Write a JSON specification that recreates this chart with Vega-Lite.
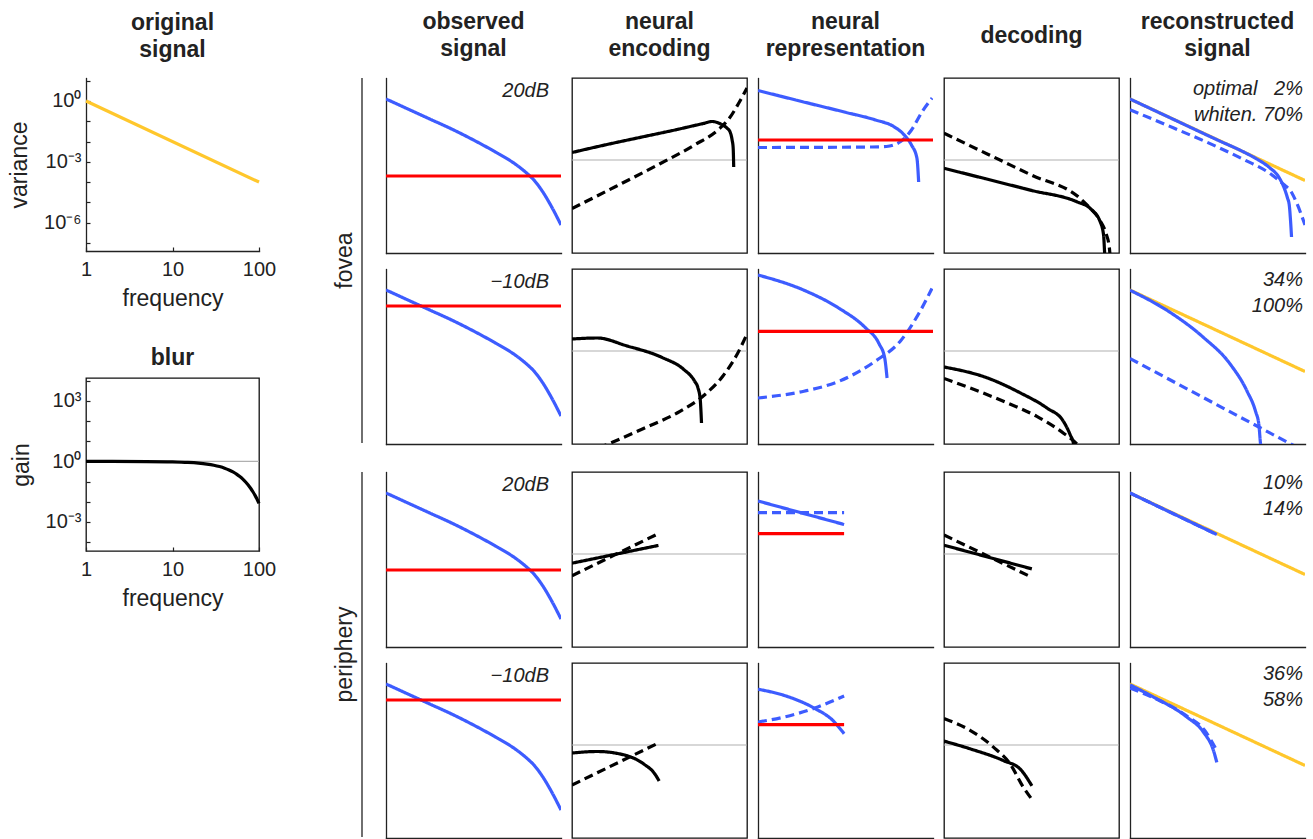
{
"$schema": "https://vega.github.io/schema/vega-lite/v6.json",
"background": "white",
"padding": {"left": 8, "top": 10, "right": 2, "bottom": 1},
"datasets": {
"original": [
{"series": "original", "frequency": 1, "variance": 1},
{"series": "original", "frequency": 100, "variance": 0.0001}
],
"blur": [
{"series": "unity", "frequency": 1, "gain": 1},
{"series": "unity", "frequency": 100, "gain": 1},
{"series": "filter", "frequency": 1, "gain": 0.9995},
{"series": "filter", "frequency": 2, "gain": 0.998},
{"series": "filter", "frequency": 5, "gain": 0.988},
{"series": "filter", "frequency": 10, "gain": 0.953},
{"series": "filter", "frequency": 15, "gain": 0.898},
{"series": "filter", "frequency": 20, "gain": 0.826},
{"series": "filter", "frequency": 25, "gain": 0.741},
{"series": "filter", "frequency": 30, "gain": 0.65},
{"series": "filter", "frequency": 35, "gain": 0.556},
{"series": "filter", "frequency": 40, "gain": 0.465},
{"series": "filter", "frequency": 45, "gain": 0.379},
{"series": "filter", "frequency": 50, "gain": 0.302},
{"series": "filter", "frequency": 55, "gain": 0.235},
{"series": "filter", "frequency": 60, "gain": 0.178},
{"series": "filter", "frequency": 65, "gain": 0.132},
{"series": "filter", "frequency": 70, "gain": 0.0957},
{"series": "filter", "frequency": 75, "gain": 0.0676},
{"series": "filter", "frequency": 80, "gain": 0.0467},
{"series": "filter", "frequency": 85, "gain": 0.0314},
{"series": "filter", "frequency": 90, "gain": 0.0207},
{"series": "filter", "frequency": 95, "gain": 0.0133},
{"series": "filter", "frequency": 100, "gain": 0.0083}
],
"notes": [
{"case": "fovea 20dB", "stage": "observed signal", "text": "20dB"},
{"case": "fovea -10dB", "stage": "observed signal", "text": "−10dB"},
{"case": "periphery 20dB", "stage": "observed signal", "text": "20dB"},
{"case": "periphery -10dB", "stage": "observed signal", "text": "−10dB"},
{"case": "fovea 20dB", "stage": "reconstructed signal", "text": "optimal\u00a0\u00a0\u00a02%\nwhiten. 70%"},
{"case": "fovea -10dB", "stage": "reconstructed signal", "text": "34%\n100%"},
{"case": "periphery 20dB", "stage": "reconstructed signal", "text": "10%\n14%"},
{"case": "periphery -10dB", "stage": "reconstructed signal", "text": "36%\n58%"}
],
"curves": [
{"case": "all", "stage": "observed signal", "series": "signal", "variant": "none", "x": 0, "y": 154},
{"case": "all", "stage": "observed signal", "series": "signal", "variant": "none", "x": 0.25, "y": 144},
{"case": "all", "stage": "observed signal", "series": "signal", "variant": "none", "x": 0.5, "y": 134},
{"case": "all", "stage": "observed signal", "series": "signal", "variant": "none", "x": 0.75, "y": 124},
{"case": "all", "stage": "observed signal", "series": "signal", "variant": "none", "x": 1, "y": 113},
{"case": "all", "stage": "observed signal", "series": "signal", "variant": "none", "x": 1.25, "y": 101},
{"case": "all", "stage": "observed signal", "series": "signal", "variant": "none", "x": 1.5, "y": 87.5},
{"case": "all", "stage": "observed signal", "series": "signal", "variant": "none", "x": 1.6, "y": 80.5},
{"case": "all", "stage": "observed signal", "series": "signal", "variant": "none", "x": 1.7, "y": 72},
{"case": "all", "stage": "observed signal", "series": "signal", "variant": "none", "x": 1.8, "y": 60},
{"case": "all", "stage": "observed signal", "series": "signal", "variant": "none", "x": 1.9, "y": 45},
{"case": "all", "stage": "observed signal", "series": "signal", "variant": "none", "x": 2, "y": 28},
{"case": "fovea 20dB", "stage": "observed signal", "series": "noise", "variant": "none", "x": 0, "y": 77},
{"case": "fovea 20dB", "stage": "observed signal", "series": "noise", "variant": "none", "x": 2, "y": 77},
{"case": "fovea -10dB", "stage": "observed signal", "series": "noise", "variant": "none", "x": 0, "y": 138},
{"case": "fovea -10dB", "stage": "observed signal", "series": "noise", "variant": "none", "x": 2, "y": 138},
{"case": "periphery 20dB", "stage": "observed signal", "series": "noise", "variant": "none", "x": 0, "y": 77},
{"case": "periphery 20dB", "stage": "observed signal", "series": "noise", "variant": "none", "x": 2, "y": 77},
{"case": "periphery -10dB", "stage": "observed signal", "series": "noise", "variant": "none", "x": 0, "y": 138},
{"case": "periphery -10dB", "stage": "observed signal", "series": "noise", "variant": "none", "x": 2, "y": 138},

{"case": "all", "stage": "neural encoding", "series": "unity", "variant": "none", "x": 0, "y": 93},
{"case": "all", "stage": "neural encoding", "series": "unity", "variant": "none", "x": 2, "y": 93},
{"case": "fovea 20dB", "stage": "neural encoding", "series": "filter", "variant": "optimal", "x": 0, "y": 100.5},
{"case": "fovea 20dB", "stage": "neural encoding", "series": "filter", "variant": "optimal", "x": 0.4, "y": 108.5},
{"case": "fovea 20dB", "stage": "neural encoding", "series": "filter", "variant": "optimal", "x": 0.8, "y": 116},
{"case": "fovea 20dB", "stage": "neural encoding", "series": "filter", "variant": "optimal", "x": 1.2, "y": 123.5},
{"case": "fovea 20dB", "stage": "neural encoding", "series": "filter", "variant": "optimal", "x": 1.5, "y": 129.5},
{"case": "fovea 20dB", "stage": "neural encoding", "series": "filter", "variant": "optimal", "x": 1.6, "y": 131.5},
{"case": "fovea 20dB", "stage": "neural encoding", "series": "filter", "variant": "optimal", "x": 1.7, "y": 129},
{"case": "fovea 20dB", "stage": "neural encoding", "series": "filter", "variant": "optimal", "x": 1.77, "y": 125},
{"case": "fovea 20dB", "stage": "neural encoding", "series": "filter", "variant": "optimal", "x": 1.807, "y": 121},
{"case": "fovea 20dB", "stage": "neural encoding", "series": "filter", "variant": "optimal", "x": 1.83, "y": 113},
{"case": "fovea 20dB", "stage": "neural encoding", "series": "filter", "variant": "optimal", "x": 1.842, "y": 105},
{"case": "fovea 20dB", "stage": "neural encoding", "series": "filter", "variant": "optimal", "x": 1.848, "y": 86},
{"case": "fovea 20dB", "stage": "neural encoding", "series": "filter", "variant": "whitening", "x": 0, "y": 44.5},
{"case": "fovea 20dB", "stage": "neural encoding", "series": "filter", "variant": "whitening", "x": 0.5, "y": 66.5},
{"case": "fovea 20dB", "stage": "neural encoding", "series": "filter", "variant": "whitening", "x": 1, "y": 89},
{"case": "fovea 20dB", "stage": "neural encoding", "series": "filter", "variant": "whitening", "x": 1.4, "y": 108},
{"case": "fovea 20dB", "stage": "neural encoding", "series": "filter", "variant": "whitening", "x": 1.68, "y": 124},
{"case": "fovea 20dB", "stage": "neural encoding", "series": "filter", "variant": "whitening", "x": 1.8, "y": 135},
{"case": "fovea 20dB", "stage": "neural encoding", "series": "filter", "variant": "whitening", "x": 1.9, "y": 149},
{"case": "fovea 20dB", "stage": "neural encoding", "series": "filter", "variant": "whitening", "x": 2, "y": 165},
{"case": "fovea -10dB", "stage": "neural encoding", "series": "filter", "variant": "optimal", "x": 0, "y": 105},
{"case": "fovea -10dB", "stage": "neural encoding", "series": "filter", "variant": "optimal", "x": 0.29, "y": 106},
{"case": "fovea -10dB", "stage": "neural encoding", "series": "filter", "variant": "optimal", "x": 0.62, "y": 98.3},
{"case": "fovea -10dB", "stage": "neural encoding", "series": "filter", "variant": "optimal", "x": 1.03, "y": 86.5},
{"case": "fovea -10dB", "stage": "neural encoding", "series": "filter", "variant": "optimal", "x": 1.275, "y": 74.7},
{"case": "fovea -10dB", "stage": "neural encoding", "series": "filter", "variant": "optimal", "x": 1.4, "y": 63},
{"case": "fovea -10dB", "stage": "neural encoding", "series": "filter", "variant": "optimal", "x": 1.44, "y": 56},
{"case": "fovea -10dB", "stage": "neural encoding", "series": "filter", "variant": "optimal", "x": 1.465, "y": 45},
{"case": "fovea -10dB", "stage": "neural encoding", "series": "filter", "variant": "optimal", "x": 1.48, "y": 21},
{"case": "fovea -10dB", "stage": "neural encoding", "series": "filter", "variant": "whitening", "x": 0.3, "y": -4},
{"case": "fovea -10dB", "stage": "neural encoding", "series": "filter", "variant": "whitening", "x": 0.414, "y": 0},
{"case": "fovea -10dB", "stage": "neural encoding", "series": "filter", "variant": "whitening", "x": 0.824, "y": 15.8},
{"case": "fovea -10dB", "stage": "neural encoding", "series": "filter", "variant": "whitening", "x": 1.234, "y": 32.6},
{"case": "fovea -10dB", "stage": "neural encoding", "series": "filter", "variant": "whitening", "x": 1.52, "y": 49.5},
{"case": "fovea -10dB", "stage": "neural encoding", "series": "filter", "variant": "whitening", "x": 1.725, "y": 68},
{"case": "fovea -10dB", "stage": "neural encoding", "series": "filter", "variant": "whitening", "x": 1.889, "y": 90},
{"case": "fovea -10dB", "stage": "neural encoding", "series": "filter", "variant": "whitening", "x": 2, "y": 110},
{"case": "periphery 20dB", "stage": "neural encoding", "series": "filter", "variant": "optimal", "x": 0, "y": 83.8},
{"case": "periphery 20dB", "stage": "neural encoding", "series": "filter", "variant": "optimal", "x": 0.988, "y": 101.6},
{"case": "periphery 20dB", "stage": "neural encoding", "series": "filter", "variant": "whitening", "x": 0, "y": 71.3},
{"case": "periphery 20dB", "stage": "neural encoding", "series": "filter", "variant": "whitening", "x": 0.988, "y": 113.4},
{"case": "periphery -10dB", "stage": "neural encoding", "series": "filter", "variant": "optimal", "x": 0, "y": 85},
{"case": "periphery -10dB", "stage": "neural encoding", "series": "filter", "variant": "optimal", "x": 0.29, "y": 86.5},
{"case": "periphery -10dB", "stage": "neural encoding", "series": "filter", "variant": "optimal", "x": 0.62, "y": 82.5},
{"case": "periphery -10dB", "stage": "neural encoding", "series": "filter", "variant": "optimal", "x": 0.82, "y": 74},
{"case": "periphery -10dB", "stage": "neural encoding", "series": "filter", "variant": "optimal", "x": 0.947, "y": 64},
{"case": "periphery -10dB", "stage": "neural encoding", "series": "filter", "variant": "optimal", "x": 0.996, "y": 57},
{"case": "periphery -10dB", "stage": "neural encoding", "series": "filter", "variant": "whitening", "x": 0, "y": 53},
{"case": "periphery -10dB", "stage": "neural encoding", "series": "filter", "variant": "whitening", "x": 0.988, "y": 95},

{"case": "fovea 20dB", "stage": "neural representation", "series": "signal", "variant": "optimal", "x": 0, "y": 162.5},
{"case": "fovea 20dB", "stage": "neural representation", "series": "signal", "variant": "optimal", "x": 0.5, "y": 151.5},
{"case": "fovea 20dB", "stage": "neural representation", "series": "signal", "variant": "optimal", "x": 1, "y": 140.7},
{"case": "fovea 20dB", "stage": "neural representation", "series": "signal", "variant": "optimal", "x": 1.344, "y": 133},
{"case": "fovea 20dB", "stage": "neural representation", "series": "signal", "variant": "optimal", "x": 1.55, "y": 126.5},
{"case": "fovea 20dB", "stage": "neural representation", "series": "signal", "variant": "optimal", "x": 1.672, "y": 118},
{"case": "fovea 20dB", "stage": "neural representation", "series": "signal", "variant": "optimal", "x": 1.754, "y": 108},
{"case": "fovea 20dB", "stage": "neural representation", "series": "signal", "variant": "optimal", "x": 1.816, "y": 95},
{"case": "fovea 20dB", "stage": "neural representation", "series": "signal", "variant": "optimal", "x": 1.836, "y": 71},
{"case": "fovea 20dB", "stage": "neural representation", "series": "signal", "variant": "whitening", "x": 0, "y": 105.5},
{"case": "fovea 20dB", "stage": "neural representation", "series": "signal", "variant": "whitening", "x": 0.8, "y": 105.7},
{"case": "fovea 20dB", "stage": "neural representation", "series": "signal", "variant": "whitening", "x": 1.3, "y": 106},
{"case": "fovea 20dB", "stage": "neural representation", "series": "signal", "variant": "whitening", "x": 1.467, "y": 106.5},
{"case": "fovea 20dB", "stage": "neural representation", "series": "signal", "variant": "whitening", "x": 1.63, "y": 111.5},
{"case": "fovea 20dB", "stage": "neural representation", "series": "signal", "variant": "whitening", "x": 1.754, "y": 123},
{"case": "fovea 20dB", "stage": "neural representation", "series": "signal", "variant": "whitening", "x": 1.877, "y": 141.5},
{"case": "fovea 20dB", "stage": "neural representation", "series": "signal", "variant": "whitening", "x": 1.99, "y": 155},
{"case": "fovea 20dB", "stage": "neural representation", "series": "noise", "variant": "none", "x": 0, "y": 113},
{"case": "fovea 20dB", "stage": "neural representation", "series": "noise", "variant": "none", "x": 2, "y": 113},
{"case": "fovea -10dB", "stage": "neural representation", "series": "signal", "variant": "optimal", "x": 0, "y": 169},
{"case": "fovea -10dB", "stage": "neural representation", "series": "signal", "variant": "optimal", "x": 0.525, "y": 153.8},
{"case": "fovea -10dB", "stage": "neural representation", "series": "signal", "variant": "optimal", "x": 0.934, "y": 135.3},
{"case": "fovea -10dB", "stage": "neural representation", "series": "signal", "variant": "optimal", "x": 1.221, "y": 116.8},
{"case": "fovea -10dB", "stage": "neural representation", "series": "signal", "variant": "optimal", "x": 1.385, "y": 100},
{"case": "fovea -10dB", "stage": "neural representation", "series": "signal", "variant": "optimal", "x": 1.447, "y": 86.5},
{"case": "fovea -10dB", "stage": "neural representation", "series": "signal", "variant": "optimal", "x": 1.475, "y": 66},
{"case": "fovea -10dB", "stage": "neural representation", "series": "signal", "variant": "whitening", "x": 0, "y": 46},
{"case": "fovea -10dB", "stage": "neural representation", "series": "signal", "variant": "whitening", "x": 0.525, "y": 52.8},
{"case": "fovea -10dB", "stage": "neural representation", "series": "signal", "variant": "whitening", "x": 0.934, "y": 63},
{"case": "fovea -10dB", "stage": "neural representation", "series": "signal", "variant": "whitening", "x": 1.344, "y": 83},
{"case": "fovea -10dB", "stage": "neural representation", "series": "signal", "variant": "whitening", "x": 1.631, "y": 103.3},
{"case": "fovea -10dB", "stage": "neural representation", "series": "signal", "variant": "whitening", "x": 1.836, "y": 130.2},
{"case": "fovea -10dB", "stage": "neural representation", "series": "signal", "variant": "whitening", "x": 1.988, "y": 155.5},
{"case": "fovea -10dB", "stage": "neural representation", "series": "noise", "variant": "none", "x": 0, "y": 112.7},
{"case": "fovea -10dB", "stage": "neural representation", "series": "noise", "variant": "none", "x": 2, "y": 112.7},
{"case": "periphery 20dB", "stage": "neural representation", "series": "signal", "variant": "optimal", "x": 0, "y": 146},
{"case": "periphery 20dB", "stage": "neural representation", "series": "signal", "variant": "optimal", "x": 0.984, "y": 122.5},
{"case": "periphery 20dB", "stage": "neural representation", "series": "signal", "variant": "whitening", "x": 0, "y": 134.3},
{"case": "periphery 20dB", "stage": "neural representation", "series": "signal", "variant": "whitening", "x": 0.984, "y": 134.3},
{"case": "periphery 20dB", "stage": "neural representation", "series": "noise", "variant": "none", "x": 0, "y": 113.4},
{"case": "periphery 20dB", "stage": "neural representation", "series": "noise", "variant": "none", "x": 0.984, "y": 113.4},
{"case": "periphery -10dB", "stage": "neural representation", "series": "signal", "variant": "optimal", "x": 0, "y": 148.8},
{"case": "periphery -10dB", "stage": "neural representation", "series": "signal", "variant": "optimal", "x": 0.32, "y": 142},
{"case": "periphery -10dB", "stage": "neural representation", "series": "signal", "variant": "optimal", "x": 0.648, "y": 129.6},
{"case": "periphery -10dB", "stage": "neural representation", "series": "signal", "variant": "optimal", "x": 0.852, "y": 117.8},
{"case": "periphery -10dB", "stage": "neural representation", "series": "signal", "variant": "optimal", "x": 0.984, "y": 104.3},
{"case": "periphery -10dB", "stage": "neural representation", "series": "signal", "variant": "whitening", "x": 0, "y": 116},
{"case": "periphery -10dB", "stage": "neural representation", "series": "signal", "variant": "whitening", "x": 0.3, "y": 121},
{"case": "periphery -10dB", "stage": "neural representation", "series": "signal", "variant": "whitening", "x": 0.65, "y": 130},
{"case": "periphery -10dB", "stage": "neural representation", "series": "signal", "variant": "whitening", "x": 0.984, "y": 142},
{"case": "periphery -10dB", "stage": "neural representation", "series": "noise", "variant": "none", "x": 0, "y": 113.4},
{"case": "periphery -10dB", "stage": "neural representation", "series": "noise", "variant": "none", "x": 0.984, "y": 113.4},

{"case": "all", "stage": "decoding", "series": "unity", "variant": "none", "x": 0, "y": 93},
{"case": "all", "stage": "decoding", "series": "unity", "variant": "none", "x": 2, "y": 93},
{"case": "fovea 20dB", "stage": "decoding", "series": "filter", "variant": "optimal", "x": 0, "y": 84.7},
{"case": "fovea 20dB", "stage": "decoding", "series": "filter", "variant": "optimal", "x": 0.5, "y": 73.7},
{"case": "fovea 20dB", "stage": "decoding", "series": "filter", "variant": "optimal", "x": 1, "y": 62.6},
{"case": "fovea 20dB", "stage": "decoding", "series": "filter", "variant": "optimal", "x": 1.519, "y": 51.2},
{"case": "fovea 20dB", "stage": "decoding", "series": "filter", "variant": "optimal", "x": 1.672, "y": 44.5},
{"case": "fovea 20dB", "stage": "decoding", "series": "filter", "variant": "optimal", "x": 1.786, "y": 31},
{"case": "fovea 20dB", "stage": "decoding", "series": "filter", "variant": "optimal", "x": 1.824, "y": 17.7},
{"case": "fovea 20dB", "stage": "decoding", "series": "filter", "variant": "optimal", "x": 1.836, "y": 0},
{"case": "fovea 20dB", "stage": "decoding", "series": "filter", "variant": "optimal", "x": 1.84, "y": -5},
{"case": "fovea 20dB", "stage": "decoding", "series": "filter", "variant": "whitening", "x": 0, "y": 119.8},
{"case": "fovea 20dB", "stage": "decoding", "series": "filter", "variant": "whitening", "x": 0.5, "y": 98.8},
{"case": "fovea 20dB", "stage": "decoding", "series": "filter", "variant": "whitening", "x": 1, "y": 77.9},
{"case": "fovea 20dB", "stage": "decoding", "series": "filter", "variant": "whitening", "x": 1.557, "y": 54.5},
{"case": "fovea 20dB", "stage": "decoding", "series": "filter", "variant": "whitening", "x": 1.672, "y": 44.5},
{"case": "fovea 20dB", "stage": "decoding", "series": "filter", "variant": "whitening", "x": 1.78, "y": 33},
{"case": "fovea 20dB", "stage": "decoding", "series": "filter", "variant": "whitening", "x": 1.85, "y": 20},
{"case": "fovea 20dB", "stage": "decoding", "series": "filter", "variant": "whitening", "x": 1.89, "y": 5},
{"case": "fovea 20dB", "stage": "decoding", "series": "filter", "variant": "whitening", "x": 1.9, "y": -5},
{"case": "fovea -10dB", "stage": "decoding", "series": "filter", "variant": "optimal", "x": 0, "y": 77},
{"case": "fovea -10dB", "stage": "decoding", "series": "filter", "variant": "optimal", "x": 0.489, "y": 66.3},
{"case": "fovea -10dB", "stage": "decoding", "series": "filter", "variant": "optimal", "x": 0.87, "y": 51.2},
{"case": "fovea -10dB", "stage": "decoding", "series": "filter", "variant": "optimal", "x": 1.176, "y": 36},
{"case": "fovea -10dB", "stage": "decoding", "series": "filter", "variant": "optimal", "x": 1.366, "y": 22.5},
{"case": "fovea -10dB", "stage": "decoding", "series": "filter", "variant": "optimal", "x": 1.443, "y": 9},
{"case": "fovea -10dB", "stage": "decoding", "series": "filter", "variant": "optimal", "x": 1.481, "y": 0},
{"case": "fovea -10dB", "stage": "decoding", "series": "filter", "variant": "optimal", "x": 1.49, "y": -5},
{"case": "fovea -10dB", "stage": "decoding", "series": "filter", "variant": "whitening", "x": 0, "y": 65.6},
{"case": "fovea -10dB", "stage": "decoding", "series": "filter", "variant": "whitening", "x": 0.679, "y": 42.7},
{"case": "fovea -10dB", "stage": "decoding", "series": "filter", "variant": "whitening", "x": 1.061, "y": 27.6},
{"case": "fovea -10dB", "stage": "decoding", "series": "filter", "variant": "whitening", "x": 1.366, "y": 10.8},
{"case": "fovea -10dB", "stage": "decoding", "series": "filter", "variant": "whitening", "x": 1.519, "y": 0},
{"case": "fovea -10dB", "stage": "decoding", "series": "filter", "variant": "whitening", "x": 1.55, "y": -3},
{"case": "periphery 20dB", "stage": "decoding", "series": "filter", "variant": "optimal", "x": 0, "y": 101.8},
{"case": "periphery 20dB", "stage": "decoding", "series": "filter", "variant": "optimal", "x": 1.004, "y": 78.1},
{"case": "periphery 20dB", "stage": "decoding", "series": "filter", "variant": "whitening", "x": 0, "y": 112},
{"case": "periphery 20dB", "stage": "decoding", "series": "filter", "variant": "whitening", "x": 1.004, "y": 69.7},
{"case": "periphery -10dB", "stage": "decoding", "series": "filter", "variant": "optimal", "x": 0, "y": 96.9},
{"case": "periphery -10dB", "stage": "decoding", "series": "filter", "variant": "optimal", "x": 0.298, "y": 89.2},
{"case": "periphery -10dB", "stage": "decoding", "series": "filter", "variant": "optimal", "x": 0.679, "y": 77.4},
{"case": "periphery -10dB", "stage": "decoding", "series": "filter", "variant": "optimal", "x": 0.87, "y": 69},
{"case": "periphery -10dB", "stage": "decoding", "series": "filter", "variant": "optimal", "x": 1.004, "y": 52.2},
{"case": "periphery -10dB", "stage": "decoding", "series": "filter", "variant": "whitening", "x": 0, "y": 119.5},
{"case": "periphery -10dB", "stage": "decoding", "series": "filter", "variant": "whitening", "x": 0.298, "y": 107.7},
{"case": "periphery -10dB", "stage": "decoding", "series": "filter", "variant": "whitening", "x": 0.565, "y": 90.9},
{"case": "periphery -10dB", "stage": "decoding", "series": "filter", "variant": "whitening", "x": 0.756, "y": 74},
{"case": "periphery -10dB", "stage": "decoding", "series": "filter", "variant": "whitening", "x": 0.908, "y": 50.5},
{"case": "periphery -10dB", "stage": "decoding", "series": "filter", "variant": "whitening", "x": 1.004, "y": 38.7},

{"case": "all", "stage": "reconstructed signal", "series": "original", "variant": "none", "x": 0, "y": 154},
{"case": "all", "stage": "reconstructed signal", "series": "original", "variant": "none", "x": 2, "y": 72.5},
{"case": "fovea 20dB", "stage": "reconstructed signal", "series": "signal", "variant": "whitening", "x": 0, "y": 143.2},
{"case": "fovea 20dB", "stage": "reconstructed signal", "series": "signal", "variant": "whitening", "x": 0.5, "y": 125},
{"case": "fovea 20dB", "stage": "reconstructed signal", "series": "signal", "variant": "whitening", "x": 1, "y": 106},
{"case": "fovea 20dB", "stage": "reconstructed signal", "series": "signal", "variant": "whitening", "x": 1.3, "y": 93.5},
{"case": "fovea 20dB", "stage": "reconstructed signal", "series": "signal", "variant": "whitening", "x": 1.6, "y": 79.5},
{"case": "fovea 20dB", "stage": "reconstructed signal", "series": "signal", "variant": "whitening", "x": 1.75, "y": 69},
{"case": "fovea 20dB", "stage": "reconstructed signal", "series": "signal", "variant": "whitening", "x": 1.85, "y": 60},
{"case": "fovea 20dB", "stage": "reconstructed signal", "series": "signal", "variant": "whitening", "x": 1.9, "y": 51},
{"case": "fovea 20dB", "stage": "reconstructed signal", "series": "signal", "variant": "whitening", "x": 2, "y": 28},
{"case": "fovea 20dB", "stage": "reconstructed signal", "series": "signal", "variant": "optimal", "x": 0, "y": 154},
{"case": "fovea 20dB", "stage": "reconstructed signal", "series": "signal", "variant": "optimal", "x": 0.5, "y": 133.5},
{"case": "fovea 20dB", "stage": "reconstructed signal", "series": "signal", "variant": "optimal", "x": 1, "y": 113},
{"case": "fovea 20dB", "stage": "reconstructed signal", "series": "signal", "variant": "optimal", "x": 1.3, "y": 101},
{"case": "fovea 20dB", "stage": "reconstructed signal", "series": "signal", "variant": "optimal", "x": 1.45, "y": 94},
{"case": "fovea 20dB", "stage": "reconstructed signal", "series": "signal", "variant": "optimal", "x": 1.6, "y": 85},
{"case": "fovea 20dB", "stage": "reconstructed signal", "series": "signal", "variant": "optimal", "x": 1.7, "y": 76},
{"case": "fovea 20dB", "stage": "reconstructed signal", "series": "signal", "variant": "optimal", "x": 1.762, "y": 65},
{"case": "fovea 20dB", "stage": "reconstructed signal", "series": "signal", "variant": "optimal", "x": 1.8, "y": 55},
{"case": "fovea 20dB", "stage": "reconstructed signal", "series": "signal", "variant": "optimal", "x": 1.82, "y": 48},
{"case": "fovea 20dB", "stage": "reconstructed signal", "series": "signal", "variant": "optimal", "x": 1.835, "y": 32},
{"case": "fovea 20dB", "stage": "reconstructed signal", "series": "signal", "variant": "optimal", "x": 1.846, "y": 16},
{"case": "fovea -10dB", "stage": "reconstructed signal", "series": "signal", "variant": "whitening", "x": 0, "y": 85.5},
{"case": "fovea -10dB", "stage": "reconstructed signal", "series": "signal", "variant": "whitening", "x": 1.838, "y": 0},
{"case": "fovea -10dB", "stage": "reconstructed signal", "series": "signal", "variant": "whitening", "x": 2, "y": -7.5},
{"case": "fovea -10dB", "stage": "reconstructed signal", "series": "signal", "variant": "optimal", "x": 0, "y": 153.8},
{"case": "fovea -10dB", "stage": "reconstructed signal", "series": "signal", "variant": "optimal", "x": 0.454, "y": 131.9},
{"case": "fovea -10dB", "stage": "reconstructed signal", "series": "signal", "variant": "optimal", "x": 0.838, "y": 106.7},
{"case": "fovea -10dB", "stage": "reconstructed signal", "series": "signal", "variant": "optimal", "x": 1.146, "y": 79.8},
{"case": "fovea -10dB", "stage": "reconstructed signal", "series": "signal", "variant": "optimal", "x": 1.338, "y": 52.8},
{"case": "fovea -10dB", "stage": "reconstructed signal", "series": "signal", "variant": "optimal", "x": 1.435, "y": 32.6},
{"case": "fovea -10dB", "stage": "reconstructed signal", "series": "signal", "variant": "optimal", "x": 1.473, "y": 19.2},
{"case": "fovea -10dB", "stage": "reconstructed signal", "series": "signal", "variant": "optimal", "x": 1.492, "y": 0},
{"case": "fovea -10dB", "stage": "reconstructed signal", "series": "signal", "variant": "optimal", "x": 1.5, "y": -5},
{"case": "periphery 20dB", "stage": "reconstructed signal", "series": "signal", "variant": "whitening", "x": 0, "y": 154},
{"case": "periphery 20dB", "stage": "reconstructed signal", "series": "signal", "variant": "whitening", "x": 0.992, "y": 112.5},
{"case": "periphery 20dB", "stage": "reconstructed signal", "series": "signal", "variant": "optimal", "x": 0, "y": 154},
{"case": "periphery 20dB", "stage": "reconstructed signal", "series": "signal", "variant": "optimal", "x": 0.992, "y": 112.5},
{"case": "periphery -10dB", "stage": "reconstructed signal", "series": "signal", "variant": "whitening", "x": 0, "y": 150},
{"case": "periphery -10dB", "stage": "reconstructed signal", "series": "signal", "variant": "whitening", "x": 0.3, "y": 139},
{"case": "periphery -10dB", "stage": "reconstructed signal", "series": "signal", "variant": "whitening", "x": 0.65, "y": 122},
{"case": "periphery -10dB", "stage": "reconstructed signal", "series": "signal", "variant": "whitening", "x": 0.85, "y": 108},
{"case": "periphery -10dB", "stage": "reconstructed signal", "series": "signal", "variant": "whitening", "x": 0.992, "y": 87.5},
{"case": "periphery -10dB", "stage": "reconstructed signal", "series": "signal", "variant": "optimal", "x": 0, "y": 153.1},
{"case": "periphery -10dB", "stage": "reconstructed signal", "series": "signal", "variant": "optimal", "x": 0.262, "y": 141.3},
{"case": "periphery -10dB", "stage": "reconstructed signal", "series": "signal", "variant": "optimal", "x": 0.646, "y": 121.2},
{"case": "periphery -10dB", "stage": "reconstructed signal", "series": "signal", "variant": "optimal", "x": 0.838, "y": 106},
{"case": "periphery -10dB", "stage": "reconstructed signal", "series": "signal", "variant": "optimal", "x": 0.954, "y": 87.5},
{"case": "periphery -10dB", "stage": "reconstructed signal", "series": "signal", "variant": "optimal", "x": 0.992, "y": 75.7}
]
},
"spacing": 56,
"hconcat": [
{"vconcat": [
 {"width": 173, "height": 173,
  "title": {"text": ["original", "signal"], "offset": 9},
  "data": {"name": "original"},
  "mark": {"type": "line", "color": "#ffc72c", "strokeWidth": 3.2},
  "encoding": {
   "x": {"field": "frequency", "type": "quantitative", "scale": {"type": "log", "domain": [1, 100], "nice": false},
         "axis": {"title": "frequency", "values": [1, 10, 100], "format": "~g", "labels": true, "ticks": true, "tickSize": -4, "labelPadding": 12, "titlePadding": 8, "labelFlush": false, "labelOverlap": false}},
   "y": {"field": "variance", "type": "quantitative", "scale": {"type": "log", "domain": [4e-8, 13.5], "nice": false},
         "axis": {"title": "variance", "values": [1e-7, 1e-6, 1e-5, 1e-4, 1e-3, 1e-2, 1e-1, 1, 10], "labelExpr": "abs(log(datum.value)/LN10) < 0.01 ? '10⁰' : abs(log(datum.value)/LN10 + 3) < 0.01 ? '10⁻³' : abs(log(datum.value)/LN10 + 6) < 0.01 ? '10⁻⁶' : ''", "labels": true, "ticks": true, "tickSize": -4, "labelPadding": 9, "titlePadding": 12, "labelOverlap": false, "labelFlush": false}}
  }},
 {"width": 173, "height": 173,
  "title": {"text": "blur", "offset": 1},
  "view": {"stroke": "#111", "strokeWidth": 1.3},
  "data": {"name": "blur"},
  "encoding": {
   "x": {"field": "frequency", "type": "quantitative", "scale": {"type": "log", "domain": [1, 100], "nice": false},
         "axis": {"title": "frequency", "domain": false, "values": [1, 10, 100], "format": "~g", "labels": true, "ticks": true, "tickSize": -4, "labelPadding": 12, "titlePadding": 8, "labelFlush": false, "labelOverlap": false}},
   "y": {"field": "gain", "type": "quantitative", "scale": {"type": "log", "domain": [3.6e-5, 13800], "nice": false},
         "axis": {"title": "gain", "domain": false, "values": [1e-4, 1e-3, 1e-2, 1e-1, 1, 10, 100, 1000, 10000], "labelExpr": "abs(log(datum.value)/LN10 - 3) < 0.01 ? '10³' : abs(log(datum.value)/LN10) < 0.01 ? '10⁰' : abs(log(datum.value)/LN10 + 3) < 0.01 ? '10⁻³' : ''", "labels": true, "ticks": true, "tickSize": -4, "labelPadding": 9, "titlePadding": 12, "labelOverlap": false, "labelFlush": false}}
  },
  "layer": [
   {"transform": [{"filter": "datum.series == 'unity'"}], "mark": {"type": "line", "color": "#b0b0b0", "strokeWidth": 1.2}},
   {"transform": [{"filter": "datum.series == 'filter'"}], "mark": {"type": "line", "color": "#000000", "strokeWidth": 3.2, "interpolate": "monotone"}}
  ]}
], "spacing": 36},
{"vconcat": [
 {"hconcat": [
  {"width": 28, "height": 365,
   "title": {"text": [" ", " "]},
   "data": {"values": [{"region": "fovea"}]},
   "layer": [
    {"mark": {"type": "rule", "color": "#222", "strokeWidth": 1.3}, "encoding": {"x": {"datum": 1, "type": "quantitative", "scale": {"domain": [0, 1], "nice": false, "zero": false}, "axis": null}}},
    {"mark": {"type": "text", "angle": 270, "fontSize": 23, "color": "#222", "align": "center", "baseline": "middle"}, "encoding": {"x": {"datum": 0.39, "type": "quantitative", "axis": null}, "y": {"datum": 0.5, "type": "quantitative", "scale": {"domain": [0, 1], "nice": false, "zero": false}, "axis": null}, "text": {"field": "region"}}}
   ]},
  {"vconcat": [
   {"hconcat": [
    {"width": 175, "height": 175, "title": {"text": ["observed", "signal"]},
     "layer": [
      {"data": {"name": "curves"}, "transform": [{"filter": "datum.stage == 'observed signal' && (datum.case == 'fovea 20dB' || datum.case == 'all')"}],
       "mark": {"type": "line", "interpolate": "monotone", "clip": true, "strokeWidth": 3.2},
       "encoding": {"x": {"field": "x", "type": "quantitative", "title": null, "scale": {"domain": [0, 2], "nice": false, "zero": false}}, "y": {"field": "y", "type": "quantitative", "title": null, "scale": {"domain": [0, 175], "nice": false, "zero": false}}, "color": {"field": "series", "type": "nominal", "scale": {"domain": ["original", "signal", "noise", "filter"], "range": ["#ffc72c", "#3d5cff", "#ff0000", "#000000"]}, "legend": null}, "strokeDash": {"field": "variant", "type": "nominal", "scale": {"domain": ["none", "optimal", "whitening"], "range": [[1, 0], [1, 0], [9, 5]]}, "legend": null}}},
      {"data": {"name": "notes"}, "transform": [{"filter": "datum.stage == 'observed signal' && datum.case == 'fovea 20dB'"}],
       "mark": {"type": "text", "align": "right", "baseline": "top", "dx": -12, "dy": 3, "fontSize": 20, "fontStyle": "italic", "color": "#222", "lineBreak": "\n", "lineHeight": 25.5},
       "encoding": {"x": {"datum": 2}, "y": {"datum": 175}, "text": {"field": "text"}}}
     ]},
    {"width": 175, "height": 175, "title": {"text": ["neural", "encoding"]},
     "view": {"stroke": "#111", "strokeWidth": 1.3},
     "data": {"name": "curves"}, "transform": [{"filter": "datum.stage == 'neural encoding' && (datum.case == 'fovea 20dB' || datum.case == 'all')"}],
     "encoding": {"x": {"field": "x", "type": "quantitative", "axis": null, "scale": {"domain": [0, 2], "nice": false, "zero": false}}, "y": {"field": "y", "type": "quantitative", "axis": null, "scale": {"domain": [0, 175], "nice": false, "zero": false}}},
     "layer": [
      {"transform": [{"filter": "datum.series == 'unity'"}], "mark": {"type": "line", "color": "#b0b0b0", "strokeWidth": 1.2}},
      {"transform": [{"filter": "datum.series != 'unity'"}], "mark": {"type": "line", "interpolate": "monotone", "clip": true, "strokeWidth": 3.2},
       "encoding": {"color": {"field": "series", "type": "nominal", "scale": {"domain": ["original", "signal", "noise", "filter"], "range": ["#ffc72c", "#3d5cff", "#ff0000", "#000000"]}, "legend": null}, "strokeDash": {"field": "variant", "type": "nominal", "scale": {"domain": ["none", "optimal", "whitening"], "range": [[1, 0], [1, 0], [9, 5]]}, "legend": null}}}
     ]},
    {"width": 175, "height": 175, "title": {"text": ["neural", "representation"]},
     "data": {"name": "curves"}, "transform": [{"filter": "datum.stage == 'neural representation' && datum.case == 'fovea 20dB'"}],
     "mark": {"type": "line", "interpolate": "monotone", "clip": true, "strokeWidth": 3.2},
     "encoding": {"x": {"field": "x", "type": "quantitative", "title": null, "scale": {"domain": [0, 2], "nice": false, "zero": false}}, "y": {"field": "y", "type": "quantitative", "title": null, "scale": {"domain": [0, 175], "nice": false, "zero": false}}, "color": {"field": "series", "type": "nominal", "scale": {"domain": ["original", "signal", "noise", "filter"], "range": ["#ffc72c", "#3d5cff", "#ff0000", "#000000"]}, "legend": null}, "strokeDash": {"field": "variant", "type": "nominal", "scale": {"domain": ["none", "optimal", "whitening"], "range": [[1, 0], [1, 0], [9, 5]]}, "legend": null}}},
    {"width": 175, "height": 175, "title": {"text": ["decoding"], "dy": -13},
     "view": {"stroke": "#111", "strokeWidth": 1.3},
     "data": {"name": "curves"}, "transform": [{"filter": "datum.stage == 'decoding' && (datum.case == 'fovea 20dB' || datum.case == 'all')"}],
     "encoding": {"x": {"field": "x", "type": "quantitative", "axis": null, "scale": {"domain": [0, 2], "nice": false, "zero": false}}, "y": {"field": "y", "type": "quantitative", "axis": null, "scale": {"domain": [0, 175], "nice": false, "zero": false}}},
     "layer": [
      {"transform": [{"filter": "datum.series == 'unity'"}], "mark": {"type": "line", "color": "#b0b0b0", "strokeWidth": 1.2}},
      {"transform": [{"filter": "datum.series != 'unity'"}], "mark": {"type": "line", "interpolate": "monotone", "clip": true, "strokeWidth": 3.2},
       "encoding": {"color": {"field": "series", "type": "nominal", "scale": {"domain": ["original", "signal", "noise", "filter"], "range": ["#ffc72c", "#3d5cff", "#ff0000", "#000000"]}, "legend": null}, "strokeDash": {"field": "variant", "type": "nominal", "scale": {"domain": ["none", "optimal", "whitening"], "range": [[1, 0], [1, 0], [9, 5]]}, "legend": null}}}
     ]},
    {"width": 175, "height": 175, "title": {"text": ["reconstructed", "signal"]},
     "layer": [
      {"data": {"name": "curves"}, "transform": [{"filter": "datum.stage == 'reconstructed signal' && (datum.case == 'fovea 20dB' || datum.case == 'all')"}],
       "mark": {"type": "line", "interpolate": "monotone", "clip": true, "strokeWidth": 3.2},
       "encoding": {"x": {"field": "x", "type": "quantitative", "title": null, "scale": {"domain": [0, 2], "nice": false, "zero": false}}, "y": {"field": "y", "type": "quantitative", "title": null, "scale": {"domain": [0, 175], "nice": false, "zero": false}}, "color": {"field": "series", "type": "nominal", "scale": {"domain": ["original", "signal", "noise", "filter"], "range": ["#ffc72c", "#3d5cff", "#ff0000", "#000000"]}, "legend": null}, "strokeDash": {"field": "variant", "type": "nominal", "scale": {"domain": ["none", "optimal", "whitening"], "range": [[1, 0], [1, 0], [9, 5]]}, "legend": null}}},
      {"data": {"name": "notes"}, "transform": [{"filter": "datum.stage == 'reconstructed signal' && datum.case == 'fovea 20dB'"}],
       "mark": {"type": "text", "align": "right", "baseline": "top", "dx": -2, "dy": 1, "fontSize": 20, "fontStyle": "italic", "color": "#222", "lineBreak": "\n", "lineHeight": 25.5},
       "encoding": {"x": {"datum": 2}, "y": {"datum": 175}, "text": {"field": "text"}}}
     ]}
   ], "spacing": 7},
   {"hconcat": [
    {"width": 175, "height": 175,
     "layer": [
      {"data": {"name": "curves"}, "transform": [{"filter": "datum.stage == 'observed signal' && (datum.case == 'fovea -10dB' || datum.case == 'all')"}],
       "mark": {"type": "line", "interpolate": "monotone", "clip": true, "strokeWidth": 3.2},
       "encoding": {"x": {"field": "x", "type": "quantitative", "title": null, "scale": {"domain": [0, 2], "nice": false, "zero": false}}, "y": {"field": "y", "type": "quantitative", "title": null, "scale": {"domain": [0, 175], "nice": false, "zero": false}}, "color": {"field": "series", "type": "nominal", "scale": {"domain": ["original", "signal", "noise", "filter"], "range": ["#ffc72c", "#3d5cff", "#ff0000", "#000000"]}, "legend": null}, "strokeDash": {"field": "variant", "type": "nominal", "scale": {"domain": ["none", "optimal", "whitening"], "range": [[1, 0], [1, 0], [9, 5]]}, "legend": null}}},
      {"data": {"name": "notes"}, "transform": [{"filter": "datum.stage == 'observed signal' && datum.case == 'fovea -10dB'"}],
       "mark": {"type": "text", "align": "right", "baseline": "top", "dx": -12, "dy": 3, "fontSize": 20, "fontStyle": "italic", "color": "#222", "lineBreak": "\n", "lineHeight": 25.5},
       "encoding": {"x": {"datum": 2}, "y": {"datum": 175}, "text": {"field": "text"}}}
     ]},
    {"width": 175, "height": 175,
     "view": {"stroke": "#111", "strokeWidth": 1.3},
     "data": {"name": "curves"}, "transform": [{"filter": "datum.stage == 'neural encoding' && (datum.case == 'fovea -10dB' || datum.case == 'all')"}],
     "encoding": {"x": {"field": "x", "type": "quantitative", "axis": null, "scale": {"domain": [0, 2], "nice": false, "zero": false}}, "y": {"field": "y", "type": "quantitative", "axis": null, "scale": {"domain": [0, 175], "nice": false, "zero": false}}},
     "layer": [
      {"transform": [{"filter": "datum.series == 'unity'"}], "mark": {"type": "line", "color": "#b0b0b0", "strokeWidth": 1.2}},
      {"transform": [{"filter": "datum.series != 'unity'"}], "mark": {"type": "line", "interpolate": "monotone", "clip": true, "strokeWidth": 3.2},
       "encoding": {"color": {"field": "series", "type": "nominal", "scale": {"domain": ["original", "signal", "noise", "filter"], "range": ["#ffc72c", "#3d5cff", "#ff0000", "#000000"]}, "legend": null}, "strokeDash": {"field": "variant", "type": "nominal", "scale": {"domain": ["none", "optimal", "whitening"], "range": [[1, 0], [1, 0], [9, 5]]}, "legend": null}}}
     ]},
    {"width": 175, "height": 175,
     "data": {"name": "curves"}, "transform": [{"filter": "datum.stage == 'neural representation' && datum.case == 'fovea -10dB'"}],
     "mark": {"type": "line", "interpolate": "monotone", "clip": true, "strokeWidth": 3.2},
     "encoding": {"x": {"field": "x", "type": "quantitative", "title": null, "scale": {"domain": [0, 2], "nice": false, "zero": false}}, "y": {"field": "y", "type": "quantitative", "title": null, "scale": {"domain": [0, 175], "nice": false, "zero": false}}, "color": {"field": "series", "type": "nominal", "scale": {"domain": ["original", "signal", "noise", "filter"], "range": ["#ffc72c", "#3d5cff", "#ff0000", "#000000"]}, "legend": null}, "strokeDash": {"field": "variant", "type": "nominal", "scale": {"domain": ["none", "optimal", "whitening"], "range": [[1, 0], [1, 0], [9, 5]]}, "legend": null}}},
    {"width": 175, "height": 175,
     "view": {"stroke": "#111", "strokeWidth": 1.3},
     "data": {"name": "curves"}, "transform": [{"filter": "datum.stage == 'decoding' && (datum.case == 'fovea -10dB' || datum.case == 'all')"}],
     "encoding": {"x": {"field": "x", "type": "quantitative", "axis": null, "scale": {"domain": [0, 2], "nice": false, "zero": false}}, "y": {"field": "y", "type": "quantitative", "axis": null, "scale": {"domain": [0, 175], "nice": false, "zero": false}}},
     "layer": [
      {"transform": [{"filter": "datum.series == 'unity'"}], "mark": {"type": "line", "color": "#b0b0b0", "strokeWidth": 1.2}},
      {"transform": [{"filter": "datum.series != 'unity'"}], "mark": {"type": "line", "interpolate": "monotone", "clip": true, "strokeWidth": 3.2},
       "encoding": {"color": {"field": "series", "type": "nominal", "scale": {"domain": ["original", "signal", "noise", "filter"], "range": ["#ffc72c", "#3d5cff", "#ff0000", "#000000"]}, "legend": null}, "strokeDash": {"field": "variant", "type": "nominal", "scale": {"domain": ["none", "optimal", "whitening"], "range": [[1, 0], [1, 0], [9, 5]]}, "legend": null}}}
     ]},
    {"width": 175, "height": 175,
     "layer": [
      {"data": {"name": "curves"}, "transform": [{"filter": "datum.stage == 'reconstructed signal' && (datum.case == 'fovea -10dB' || datum.case == 'all')"}],
       "mark": {"type": "line", "interpolate": "monotone", "clip": true, "strokeWidth": 3.2},
       "encoding": {"x": {"field": "x", "type": "quantitative", "title": null, "scale": {"domain": [0, 2], "nice": false, "zero": false}}, "y": {"field": "y", "type": "quantitative", "title": null, "scale": {"domain": [0, 175], "nice": false, "zero": false}}, "color": {"field": "series", "type": "nominal", "scale": {"domain": ["original", "signal", "noise", "filter"], "range": ["#ffc72c", "#3d5cff", "#ff0000", "#000000"]}, "legend": null}, "strokeDash": {"field": "variant", "type": "nominal", "scale": {"domain": ["none", "optimal", "whitening"], "range": [[1, 0], [1, 0], [9, 5]]}, "legend": null}}},
      {"data": {"name": "notes"}, "transform": [{"filter": "datum.stage == 'reconstructed signal' && datum.case == 'fovea -10dB'"}],
       "mark": {"type": "text", "align": "right", "baseline": "top", "dx": -2, "dy": 1, "fontSize": 20, "fontStyle": "italic", "color": "#222", "lineBreak": "\n", "lineHeight": 25.5},
       "encoding": {"x": {"datum": 2}, "y": {"datum": 175}, "text": {"field": "text"}}}
     ]}
   ], "spacing": 7}
  ], "spacing": 14}
 ], "spacing": 23},
 {"hconcat": [
  {"width": 28, "height": 365,
   "data": {"values": [{"region": "periphery"}]},
   "layer": [
    {"mark": {"type": "rule", "color": "#222", "strokeWidth": 1.3}, "encoding": {"x": {"datum": 1, "type": "quantitative", "scale": {"domain": [0, 1], "nice": false, "zero": false}, "axis": null}}},
    {"mark": {"type": "text", "angle": 270, "fontSize": 23, "color": "#222", "align": "center", "baseline": "middle"}, "encoding": {"x": {"datum": 0.39, "type": "quantitative", "axis": null}, "y": {"datum": 0.5, "type": "quantitative", "scale": {"domain": [0, 1], "nice": false, "zero": false}, "axis": null}, "text": {"field": "region"}}}
   ]},
  {"vconcat": [
   {"hconcat": [
    {"width": 175, "height": 175,
     "layer": [
      {"data": {"name": "curves"}, "transform": [{"filter": "datum.stage == 'observed signal' && (datum.case == 'periphery 20dB' || datum.case == 'all')"}],
       "mark": {"type": "line", "interpolate": "monotone", "clip": true, "strokeWidth": 3.2},
       "encoding": {"x": {"field": "x", "type": "quantitative", "title": null, "scale": {"domain": [0, 2], "nice": false, "zero": false}}, "y": {"field": "y", "type": "quantitative", "title": null, "scale": {"domain": [0, 175], "nice": false, "zero": false}}, "color": {"field": "series", "type": "nominal", "scale": {"domain": ["original", "signal", "noise", "filter"], "range": ["#ffc72c", "#3d5cff", "#ff0000", "#000000"]}, "legend": null}, "strokeDash": {"field": "variant", "type": "nominal", "scale": {"domain": ["none", "optimal", "whitening"], "range": [[1, 0], [1, 0], [9, 5]]}, "legend": null}}},
      {"data": {"name": "notes"}, "transform": [{"filter": "datum.stage == 'observed signal' && datum.case == 'periphery 20dB'"}],
       "mark": {"type": "text", "align": "right", "baseline": "top", "dx": -12, "dy": 3, "fontSize": 20, "fontStyle": "italic", "color": "#222", "lineBreak": "\n", "lineHeight": 25.5},
       "encoding": {"x": {"datum": 2}, "y": {"datum": 175}, "text": {"field": "text"}}}
     ]},
    {"width": 175, "height": 175,
     "view": {"stroke": "#111", "strokeWidth": 1.3},
     "data": {"name": "curves"}, "transform": [{"filter": "datum.stage == 'neural encoding' && (datum.case == 'periphery 20dB' || datum.case == 'all')"}],
     "encoding": {"x": {"field": "x", "type": "quantitative", "axis": null, "scale": {"domain": [0, 2], "nice": false, "zero": false}}, "y": {"field": "y", "type": "quantitative", "axis": null, "scale": {"domain": [0, 175], "nice": false, "zero": false}}},
     "layer": [
      {"transform": [{"filter": "datum.series == 'unity'"}], "mark": {"type": "line", "color": "#b0b0b0", "strokeWidth": 1.2}},
      {"transform": [{"filter": "datum.series != 'unity'"}], "mark": {"type": "line", "interpolate": "monotone", "clip": true, "strokeWidth": 3.2},
       "encoding": {"color": {"field": "series", "type": "nominal", "scale": {"domain": ["original", "signal", "noise", "filter"], "range": ["#ffc72c", "#3d5cff", "#ff0000", "#000000"]}, "legend": null}, "strokeDash": {"field": "variant", "type": "nominal", "scale": {"domain": ["none", "optimal", "whitening"], "range": [[1, 0], [1, 0], [9, 5]]}, "legend": null}}}
     ]},
    {"width": 175, "height": 175,
     "data": {"name": "curves"}, "transform": [{"filter": "datum.stage == 'neural representation' && datum.case == 'periphery 20dB'"}],
     "mark": {"type": "line", "interpolate": "monotone", "clip": true, "strokeWidth": 3.2},
     "encoding": {"x": {"field": "x", "type": "quantitative", "title": null, "scale": {"domain": [0, 2], "nice": false, "zero": false}}, "y": {"field": "y", "type": "quantitative", "title": null, "scale": {"domain": [0, 175], "nice": false, "zero": false}}, "color": {"field": "series", "type": "nominal", "scale": {"domain": ["original", "signal", "noise", "filter"], "range": ["#ffc72c", "#3d5cff", "#ff0000", "#000000"]}, "legend": null}, "strokeDash": {"field": "variant", "type": "nominal", "scale": {"domain": ["none", "optimal", "whitening"], "range": [[1, 0], [1, 0], [9, 5]]}, "legend": null}}},
    {"width": 175, "height": 175,
     "view": {"stroke": "#111", "strokeWidth": 1.3},
     "data": {"name": "curves"}, "transform": [{"filter": "datum.stage == 'decoding' && (datum.case == 'periphery 20dB' || datum.case == 'all')"}],
     "encoding": {"x": {"field": "x", "type": "quantitative", "axis": null, "scale": {"domain": [0, 2], "nice": false, "zero": false}}, "y": {"field": "y", "type": "quantitative", "axis": null, "scale": {"domain": [0, 175], "nice": false, "zero": false}}},
     "layer": [
      {"transform": [{"filter": "datum.series == 'unity'"}], "mark": {"type": "line", "color": "#b0b0b0", "strokeWidth": 1.2}},
      {"transform": [{"filter": "datum.series != 'unity'"}], "mark": {"type": "line", "interpolate": "monotone", "clip": true, "strokeWidth": 3.2},
       "encoding": {"color": {"field": "series", "type": "nominal", "scale": {"domain": ["original", "signal", "noise", "filter"], "range": ["#ffc72c", "#3d5cff", "#ff0000", "#000000"]}, "legend": null}, "strokeDash": {"field": "variant", "type": "nominal", "scale": {"domain": ["none", "optimal", "whitening"], "range": [[1, 0], [1, 0], [9, 5]]}, "legend": null}}}
     ]},
    {"width": 175, "height": 175,
     "layer": [
      {"data": {"name": "curves"}, "transform": [{"filter": "datum.stage == 'reconstructed signal' && (datum.case == 'periphery 20dB' || datum.case == 'all')"}],
       "mark": {"type": "line", "interpolate": "monotone", "clip": true, "strokeWidth": 3.2},
       "encoding": {"x": {"field": "x", "type": "quantitative", "title": null, "scale": {"domain": [0, 2], "nice": false, "zero": false}}, "y": {"field": "y", "type": "quantitative", "title": null, "scale": {"domain": [0, 175], "nice": false, "zero": false}}, "color": {"field": "series", "type": "nominal", "scale": {"domain": ["original", "signal", "noise", "filter"], "range": ["#ffc72c", "#3d5cff", "#ff0000", "#000000"]}, "legend": null}, "strokeDash": {"field": "variant", "type": "nominal", "scale": {"domain": ["none", "optimal", "whitening"], "range": [[1, 0], [1, 0], [9, 5]]}, "legend": null}}},
      {"data": {"name": "notes"}, "transform": [{"filter": "datum.stage == 'reconstructed signal' && datum.case == 'periphery 20dB'"}],
       "mark": {"type": "text", "align": "right", "baseline": "top", "dx": -2, "dy": 1, "fontSize": 20, "fontStyle": "italic", "color": "#222", "lineBreak": "\n", "lineHeight": 25.5},
       "encoding": {"x": {"datum": 2}, "y": {"datum": 175}, "text": {"field": "text"}}}
     ]}
   ], "spacing": 7},
   {"hconcat": [
    {"width": 175, "height": 175,
     "layer": [
      {"data": {"name": "curves"}, "transform": [{"filter": "datum.stage == 'observed signal' && (datum.case == 'periphery -10dB' || datum.case == 'all')"}],
       "mark": {"type": "line", "interpolate": "monotone", "clip": true, "strokeWidth": 3.2},
       "encoding": {"x": {"field": "x", "type": "quantitative", "title": null, "scale": {"domain": [0, 2], "nice": false, "zero": false}}, "y": {"field": "y", "type": "quantitative", "title": null, "scale": {"domain": [0, 175], "nice": false, "zero": false}}, "color": {"field": "series", "type": "nominal", "scale": {"domain": ["original", "signal", "noise", "filter"], "range": ["#ffc72c", "#3d5cff", "#ff0000", "#000000"]}, "legend": null}, "strokeDash": {"field": "variant", "type": "nominal", "scale": {"domain": ["none", "optimal", "whitening"], "range": [[1, 0], [1, 0], [9, 5]]}, "legend": null}}},
      {"data": {"name": "notes"}, "transform": [{"filter": "datum.stage == 'observed signal' && datum.case == 'periphery -10dB'"}],
       "mark": {"type": "text", "align": "right", "baseline": "top", "dx": -12, "dy": 3, "fontSize": 20, "fontStyle": "italic", "color": "#222", "lineBreak": "\n", "lineHeight": 25.5},
       "encoding": {"x": {"datum": 2}, "y": {"datum": 175}, "text": {"field": "text"}}}
     ]},
    {"width": 175, "height": 175,
     "view": {"stroke": "#111", "strokeWidth": 1.3},
     "data": {"name": "curves"}, "transform": [{"filter": "datum.stage == 'neural encoding' && (datum.case == 'periphery -10dB' || datum.case == 'all')"}],
     "encoding": {"x": {"field": "x", "type": "quantitative", "axis": null, "scale": {"domain": [0, 2], "nice": false, "zero": false}}, "y": {"field": "y", "type": "quantitative", "axis": null, "scale": {"domain": [0, 175], "nice": false, "zero": false}}},
     "layer": [
      {"transform": [{"filter": "datum.series == 'unity'"}], "mark": {"type": "line", "color": "#b0b0b0", "strokeWidth": 1.2}},
      {"transform": [{"filter": "datum.series != 'unity'"}], "mark": {"type": "line", "interpolate": "monotone", "clip": true, "strokeWidth": 3.2},
       "encoding": {"color": {"field": "series", "type": "nominal", "scale": {"domain": ["original", "signal", "noise", "filter"], "range": ["#ffc72c", "#3d5cff", "#ff0000", "#000000"]}, "legend": null}, "strokeDash": {"field": "variant", "type": "nominal", "scale": {"domain": ["none", "optimal", "whitening"], "range": [[1, 0], [1, 0], [9, 5]]}, "legend": null}}}
     ]},
    {"width": 175, "height": 175,
     "data": {"name": "curves"}, "transform": [{"filter": "datum.stage == 'neural representation' && datum.case == 'periphery -10dB'"}],
     "mark": {"type": "line", "interpolate": "monotone", "clip": true, "strokeWidth": 3.2},
     "encoding": {"x": {"field": "x", "type": "quantitative", "title": null, "scale": {"domain": [0, 2], "nice": false, "zero": false}}, "y": {"field": "y", "type": "quantitative", "title": null, "scale": {"domain": [0, 175], "nice": false, "zero": false}}, "color": {"field": "series", "type": "nominal", "scale": {"domain": ["original", "signal", "noise", "filter"], "range": ["#ffc72c", "#3d5cff", "#ff0000", "#000000"]}, "legend": null}, "strokeDash": {"field": "variant", "type": "nominal", "scale": {"domain": ["none", "optimal", "whitening"], "range": [[1, 0], [1, 0], [9, 5]]}, "legend": null}}},
    {"width": 175, "height": 175,
     "view": {"stroke": "#111", "strokeWidth": 1.3},
     "data": {"name": "curves"}, "transform": [{"filter": "datum.stage == 'decoding' && (datum.case == 'periphery -10dB' || datum.case == 'all')"}],
     "encoding": {"x": {"field": "x", "type": "quantitative", "axis": null, "scale": {"domain": [0, 2], "nice": false, "zero": false}}, "y": {"field": "y", "type": "quantitative", "axis": null, "scale": {"domain": [0, 175], "nice": false, "zero": false}}},
     "layer": [
      {"transform": [{"filter": "datum.series == 'unity'"}], "mark": {"type": "line", "color": "#b0b0b0", "strokeWidth": 1.2}},
      {"transform": [{"filter": "datum.series != 'unity'"}], "mark": {"type": "line", "interpolate": "monotone", "clip": true, "strokeWidth": 3.2},
       "encoding": {"color": {"field": "series", "type": "nominal", "scale": {"domain": ["original", "signal", "noise", "filter"], "range": ["#ffc72c", "#3d5cff", "#ff0000", "#000000"]}, "legend": null}, "strokeDash": {"field": "variant", "type": "nominal", "scale": {"domain": ["none", "optimal", "whitening"], "range": [[1, 0], [1, 0], [9, 5]]}, "legend": null}}}
     ]},
    {"width": 175, "height": 175,
     "layer": [
      {"data": {"name": "curves"}, "transform": [{"filter": "datum.stage == 'reconstructed signal' && (datum.case == 'periphery -10dB' || datum.case == 'all')"}],
       "mark": {"type": "line", "interpolate": "monotone", "clip": true, "strokeWidth": 3.2},
       "encoding": {"x": {"field": "x", "type": "quantitative", "title": null, "scale": {"domain": [0, 2], "nice": false, "zero": false}}, "y": {"field": "y", "type": "quantitative", "title": null, "scale": {"domain": [0, 175], "nice": false, "zero": false}}, "color": {"field": "series", "type": "nominal", "scale": {"domain": ["original", "signal", "noise", "filter"], "range": ["#ffc72c", "#3d5cff", "#ff0000", "#000000"]}, "legend": null}, "strokeDash": {"field": "variant", "type": "nominal", "scale": {"domain": ["none", "optimal", "whitening"], "range": [[1, 0], [1, 0], [9, 5]]}, "legend": null}}},
      {"data": {"name": "notes"}, "transform": [{"filter": "datum.stage == 'reconstructed signal' && datum.case == 'periphery -10dB'"}],
       "mark": {"type": "text", "align": "right", "baseline": "top", "dx": -2, "dy": 1, "fontSize": 20, "fontStyle": "italic", "color": "#222", "lineBreak": "\n", "lineHeight": 25.5},
       "encoding": {"x": {"datum": 2}, "y": {"datum": 175}, "text": {"field": "text"}}}
     ]}
   ], "spacing": 7}
  ], "spacing": 14}
 ], "spacing": 23}
], "spacing": 26}
],
"config": {
 "font": "Liberation Sans",
 "view": {"stroke": null},
 "axis": {"grid": false, "ticks": false, "labels": false, "domainColor": "#222", "domainWidth": 1.3, "domainCap": "square", "labelFont": "Liberation Sans", "titleFont": "Liberation Sans", "labelFontSize": 20, "titleFontSize": 23, "titleFontWeight": "normal", "labelColor": "#222", "titleColor": "#222", "tickColor": "#222", "tickWidth": 1.2},
 "title": {"font": "Liberation Sans", "fontSize": 23, "fontWeight": "bold", "color": "#222", "lineHeight": 27, "offset": 17, "anchor": "middle", "frame": "group"},
 "text": {"font": "Liberation Sans"}
}
}
